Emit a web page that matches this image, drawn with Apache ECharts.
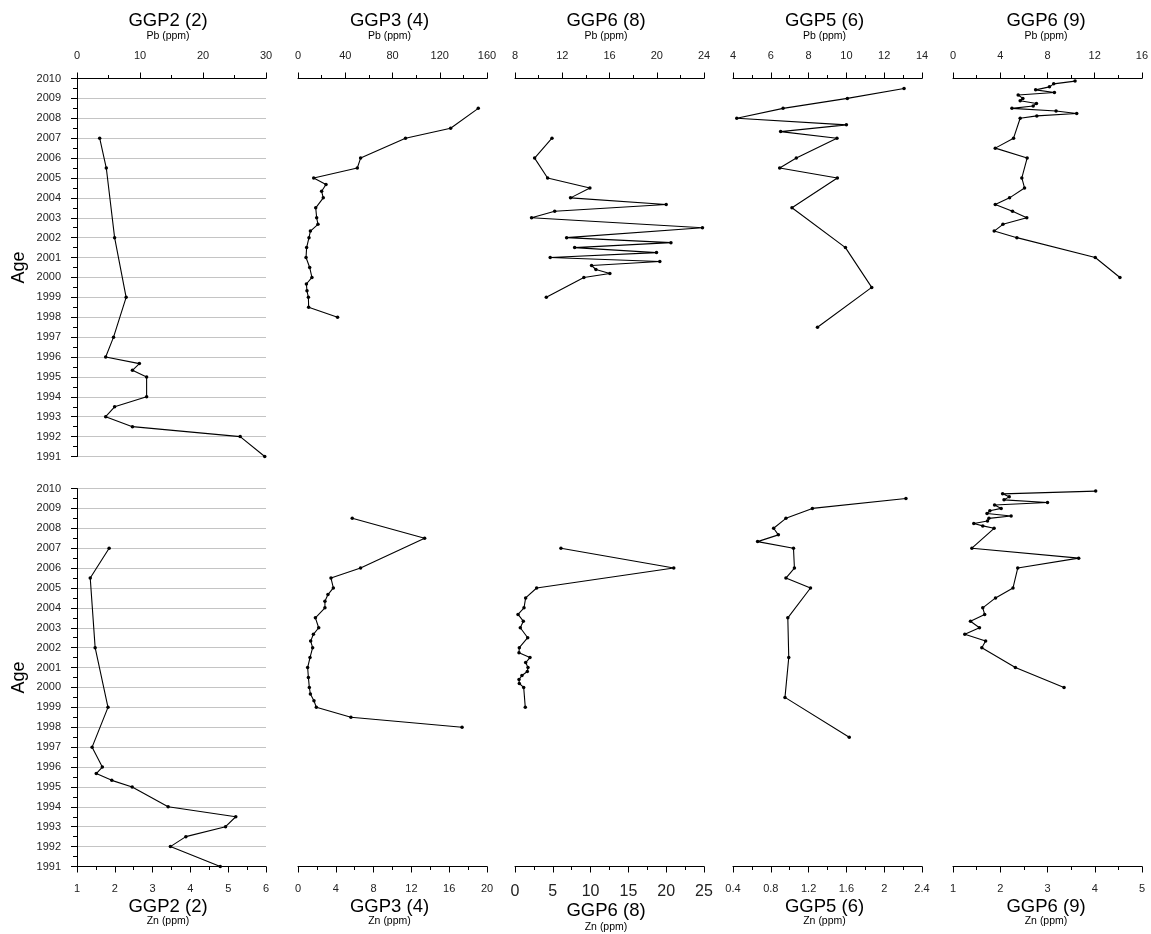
<!DOCTYPE html>
<html>
<head>
<meta charset="utf-8">
<script src="https://cdn.jsdelivr.net/npm/echarts@6/dist/echarts.min.js"></script>
<style>
  html, body { margin: 0; padding: 0; background: #ffffff; }
  #chart { width: 1151px; height: 934px; }
</style>
</head>
<body>
<div id="chart"></div>
<script>
// ---- Core names and element labels ----
const coreNames = ['GGP2 (2)', 'GGP3 (4)', 'GGP6 (8)', 'GGP5 (6)', 'GGP6 (9)'];
const topElement = 'Pb (ppm)';
const bottomElement = 'Zn (ppm)';
const ageLabel = 'Age';

// ---- GGP2 (2) ----
const ageGGP2 = [2007, 2005.5, 2002, 1999, 1997, 1996, 1995.67, 1995.33, 1995, 1994, 1993.5, 1993, 1992.5, 1992, 1991];
const pbGGP2 = [3.6, 4.65, 5.97, 7.8, 5.8, 4.55, 9.9, 8.8, 11.05, 11.05, 5.97, 4.55, 8.8, 25.9, 29.8];
const znGGP2 = [1.85, 1.35, 1.48, 1.82, 1.40, 1.67, 1.51, 1.92, 2.46, 3.41, 5.2, 4.93, 3.88, 3.47, 4.79];

// ---- GGP3 (4) ----
const ageGGP3Pb = [2008.5, 2007.5, 2007, 2006, 2005.5, 2005, 2004.67, 2004.33, 2004, 2003.5, 2003, 2002.67, 2002.33, 2002, 2001.5, 2001, 2000.5, 2000, 1999.67, 1999.33, 1999, 1998.5, 1998];
const pbGGP3 = [152.6, 129.2, 91, 53, 50.2, 13.3, 23.7, 20, 21.4, 15, 15.8, 16.9, 10.5, 9.3, 7.3, 6.8, 9.9, 11.8, 7.1, 7.6, 8.8, 9.0, 33.5];
const ageGGP3Zn = [2008.5, 2007.5, 2006, 2005.5, 2005, 2004.67, 2004.33, 2004, 2003.5, 2003, 2002.67, 2002.33, 2002, 2001.5, 2001, 2000.5, 2000, 1999.67, 1999.33, 1999, 1998.5, 1998];
const znGGP3 = [5.74, 13.4, 6.62, 3.49, 3.74, 3.17, 2.85, 2.85, 1.84, 2.19, 1.63, 1.34, 1.55, 1.27, 1.02, 1.10, 1.2, 1.31, 1.69, 1.94, 5.6, 17.36];

// ---- GGP6 (8) ----
const ageGGP6a = [2007, 2006, 2005, 2004.5, 2004, 2003.67, 2003.33, 2003, 2002.5, 2002, 2001.75, 2001.5, 2001.25, 2001, 2000.8, 2000.6, 2000.4, 2000.2, 2000, 1999];
const pbGGP6a = [11.13, 9.66, 10.76, 14.34, 12.7, 20.8, 11.36, 9.4, 23.87, 12.37, 21.2, 13.05, 19.98, 10.98, 20.26, 14.48, 14.85, 16.03, 13.83, 10.65];
const znGGP6a = [6.08, 21.0, 2.86, 1.41, 1.19, 0.4, 1.1, 0.70, 1.68, 0.57, 0.53, 1.98, 1.41, 1.72, 1.63, 0.92, 0.53, 0.57, 1.15, 1.36];

// ---- GGP5 (6) ----
const ageGGP5 = [2009.5, 2009, 2008.5, 2008, 2007.67, 2007.33, 2007, 2006, 2005.5, 2005, 2003.5, 2001.5, 1999.5, 1997.5];
const pbGGP5 = [13.05, 10.05, 6.65, 4.2, 10.0, 6.52, 9.5, 7.35, 6.47, 9.52, 7.12, 9.95, 11.34, 8.47];
const znGGP5 = [2.23, 1.24, 0.96, 0.83, 0.88, 0.66, 1.04, 1.05, 0.96, 1.22, 0.98, 0.99, 0.95, 1.63];

// ---- GGP6 (9) ----
const ageGGP6b = [2009.87, 2009.73, 2009.58, 2009.43, 2009.3, 2009.17, 2009.0, 2008.88, 2008.74, 2008.62, 2008.5, 2008.37, 2008.24, 2008.12, 2008, 2007, 2006.5, 2006, 2005, 2004.5, 2004, 2003.67, 2003.33, 2003, 2002.67, 2002.33, 2002, 2001, 2000];
const pbGGP6b = [10.34, 8.53, 8.17, 7.0, 8.59, 5.52, 5.92, 5.69, 7.07, 6.79, 4.99, 8.73, 10.48, 7.1, 5.69, 5.13, 3.58, 6.28, 5.83, 6.06, 4.79, 3.58, 5.04, 6.25, 4.23, 3.49, 5.41, 12.05, 14.14];
const znGGP6b = [4.02, 2.05, 2.19, 2.08, 3.0, 1.88, 2.02, 1.78, 1.72, 2.23, 1.76, 1.73, 1.44, 1.63, 1.87, 1.40, 3.66, 2.37, 2.27, 1.90, 1.63, 1.67, 1.37, 1.56, 1.25, 1.69, 1.61, 2.32, 3.35];

// ---- Axis scales (min, max, labelled step) ----
const pbScaleMin = [0, 0, 8, 4, 0];
const pbScaleMax = [30, 160, 24, 14, 16];
const pbScaleStep = [10, 40, 4, 2, 4];
const znScaleMin = [1, 0, 0, 0.4, 1];
const znScaleMax = [6, 20, 25, 2.4, 5];
const znScaleStep = [1, 4, 5, 0.4, 1];
const ageMin = 1991;
const ageMax = 2010;

const pbProfiles = [
  [ageGGP2, pbGGP2], [ageGGP3Pb, pbGGP3], [ageGGP6a, pbGGP6a], [ageGGP5, pbGGP5], [ageGGP6b, pbGGP6b]
];
const znProfiles = [
  [ageGGP2, znGGP2], [ageGGP3Zn, znGGP3], [ageGGP6a, znGGP6a], [ageGGP5, znGGP5], [ageGGP6b, znGGP6b]
];

// ---- Layout ----
const FONT = '"Liberation Sans", Arial, Helvetica, sans-serif';
const panelLeft = [77, 298, 515, 733, 953];
const panelWidth = 189;
const titleCenter = [168, 389.5, 606, 824.5, 1046];
const rowTop = [78.5, 488.5];
const rowHeight = 378;

const grids = [], xAxes = [], yAxes = [], series = [], graphics = [];

function plainNumber(v) {
  return String(Math.round(v * 1000) / 1000);
}

function addPanel(row, col, profile, min, max, step) {
  const idx = grids.length;
  const isTop = row === 0;
  const bigLabels = !isTop && col === 2;
  grids.push({ left: panelLeft[col], top: rowTop[row], width: panelWidth, height: rowHeight, containLabel: false });
  xAxes.push({
    type: 'value', gridIndex: idx, position: isTop ? 'top' : 'bottom',
    min: min, max: max, interval: step,
    axisLine: { show: true, onZero: false, lineStyle: { color: '#000', width: 1 } },
    axisTick: { show: true, inside: false, length: 6, lineStyle: { color: '#000', width: 1 } },
    minorTick: { show: true, splitNumber: 2, length: 3.5, lineStyle: { color: '#000', width: 1 } },
    axisLabel: { show: true, fontSize: bigLabels ? 16 : 11, color: '#222', margin: 17, fontFamily: FONT, formatter: plainNumber },
    splitLine: { show: false }, minorSplitLine: { show: false }
  });
  const first = col === 0;
  yAxes.push({
    type: 'value', gridIndex: idx, min: ageMin, max: ageMax, interval: 1, show: first,
    axisLine: { show: first, onZero: false, lineStyle: { color: '#000', width: 1 } },
    axisTick: { show: first, inside: false, length: 6, lineStyle: { color: '#000', width: 1 } },
    minorTick: { show: first, splitNumber: 2, length: 4, lineStyle: { color: '#000', width: 1 } },
    axisLabel: { show: first, fontSize: 11, color: '#222', margin: 16, fontFamily: FONT, formatter: plainNumber },
    splitLine: { show: first, lineStyle: { color: '#c4c4c4', width: 1 } }
  });
  const ages = profile[0], vals = profile[1];
  series.push({
    type: 'line', xAxisIndex: idx, yAxisIndex: idx,
    data: ages.map((a, k) => [vals[k], a]),
    symbol: 'circle', symbolSize: 3.5, showSymbol: true,
    itemStyle: { color: '#000' },
    lineStyle: { color: '#000', width: 1.1 },
    z: 5, clip: false, silent: true
  });
  // Core title and element label
  const tY = isTop ? 21 : (bigLabels ? 910.5 : 906.5);
  const sY = isTop ? 36.5 : (bigLabels ? 927.5 : 921);
  graphics.push({
    type: 'text', x: titleCenter[col], y: tY, silent: true,
    style: { text: coreNames[col], font: '18.5px ' + FONT, fill: '#000', align: 'center', verticalAlign: 'middle', textAlign: 'center', textVerticalAlign: 'middle' }
  });
  graphics.push({
    type: 'text', x: titleCenter[col], y: sY, silent: true,
    style: { text: isTop ? topElement : bottomElement, font: '10.5px ' + FONT, fill: '#000', align: 'center', verticalAlign: 'middle', textAlign: 'center', textVerticalAlign: 'middle' }
  });
}

for (let c = 0; c < 5; c++) addPanel(0, c, pbProfiles[c], pbScaleMin[c], pbScaleMax[c], pbScaleStep[c]);
for (let c = 0; c < 5; c++) addPanel(1, c, znProfiles[c], znScaleMin[c], znScaleMax[c], znScaleStep[c]);

// Vertical "Age" labels for both rows
[rowTop[0] + rowHeight / 2, rowTop[1] + rowHeight / 2].forEach(function (cy) {
  graphics.push({
    type: 'text', x: 19.5, y: cy, rotation: Math.PI / 2, silent: true,
    style: { text: ageLabel, font: '18px ' + FONT, fill: '#000', align: 'center', verticalAlign: 'middle', textAlign: 'center', textVerticalAlign: 'middle' }
  });
});

const chart = echarts.init(document.getElementById('chart'), null, { renderer: 'canvas' });
chart.setOption({
  backgroundColor: '#ffffff',
  animation: false,
  textStyle: { fontFamily: FONT },
  grid: grids,
  xAxis: xAxes,
  yAxis: yAxes,
  series: series,
  graphic: { elements: graphics }
});
</script>
</body>
</html>
